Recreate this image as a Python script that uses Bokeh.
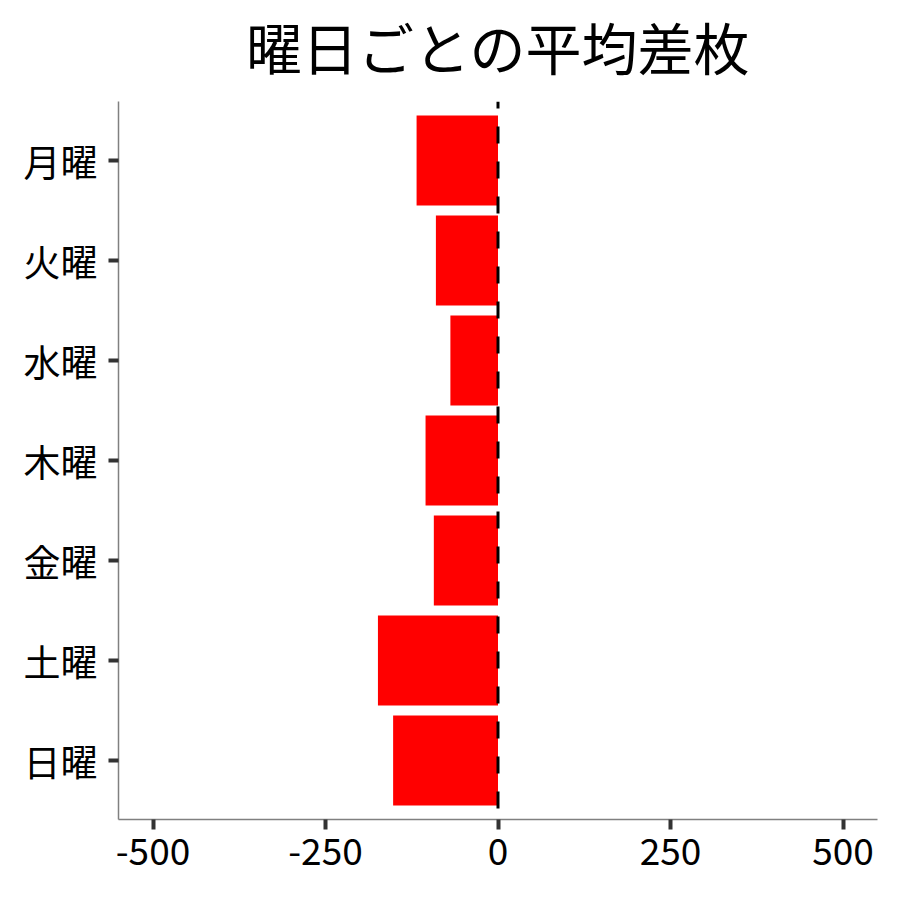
from bokeh.plotting import figure
from bokeh.models import Span, FactorRange, Range1d, FixedTicker
from bokeh.embed import file_html
from bokeh.resources import INLINE

days = ["月曜", "火曜", "水曜", "木曜", "金曜", "土曜", "日曜"]
avg_diff = [-118, -90, -69, -105, -93, -174, -152]
x_ticks = [-500, -250, 0, 250, 500]
x_tick_labels = ["-500", "-250", "0", "250", "500"]
title_text = "曜日ごとの平均差枚"

FONT = "Noto Sans CJK JP"

y_range = FactorRange(factors=list(reversed(days)), range_padding=0.09,
                      range_padding_units="absolute")
p = figure(width=892, height=892, y_range=y_range, x_range=Range1d(-550, 550),
           output_backend="svg", toolbar_location=None, title=title_text,
           min_border_left=118, min_border_right=15,
           min_border_top=101, min_border_bottom=73)

p.hbar(y=days, right=avg_diff, left=0, height=0.9, fill_color="#FF0000",
       line_color=None)

zero = Span(location=0, dimension="height", line_color="black", line_width=3,
            line_dash="17 18", line_dash_offset=10)
p.add_layout(zero)

p.title.text_font = "'DejaVu Sans', 'Noto Sans CJK JP'"
p.title.text_font_size = "56px"
p.title.text_font_style = "normal"
p.title.align = "center"
p.title.vertical_align = "top"
p.title.text_color = "black"
p.title.standoff = 33

p.xgrid.visible = False
p.ygrid.visible = False
p.outline_line_color = None
p.background_fill_color = "white"
p.border_fill_color = "white"

p.xaxis.ticker = FixedTicker(ticks=x_ticks)
p.xaxis.major_label_overrides = dict(zip(x_ticks, x_tick_labels))
for ax in (p.xaxis, p.yaxis):
    ax.axis_line_color = "#808080"
    ax.axis_line_width = 1.5
    ax.major_tick_line_color = "#333333"
    ax.major_tick_line_width = 4
    ax.major_tick_out = 10
    ax.major_tick_in = 0
    ax.minor_tick_line_color = None
    ax.major_label_text_font = FONT
    ax.major_label_text_font_size = "37px"
    ax.major_label_text_color = "black"
p.xaxis.major_label_standoff = 8
p.yaxis.major_label_standoff = 11

open("out.html", "w").write(file_html(p, INLINE))
